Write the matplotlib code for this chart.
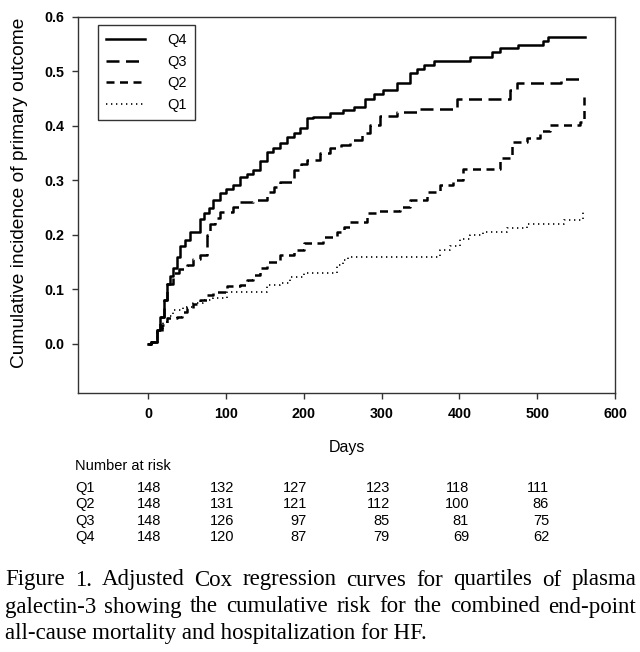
import matplotlib
matplotlib.use("Agg")
import matplotlib.pyplot as plt
from matplotlib import font_manager

# ---------------- data ----------------
q4_days = [0, 4, 11, 16, 20, 24, 28, 32, 37, 41, 47, 54, 67, 72, 78, 84, 93, 100, 109, 118, 127, 135, 144, 153, 160, 170, 179, 187, 195, 204, 212, 234, 250, 264, 279, 290, 302, 320, 337, 345, 354, 367, 414, 442, 452, 476, 508, 514, 562]
q4_vals = [0.0, 0.003, 0.026, 0.05, 0.08, 0.11, 0.125, 0.14, 0.16, 0.18, 0.19, 0.205, 0.23, 0.24, 0.25, 0.264, 0.277, 0.285, 0.292, 0.307, 0.312, 0.32, 0.335, 0.353, 0.36, 0.368, 0.38, 0.388, 0.396, 0.414, 0.417, 0.424, 0.43, 0.435, 0.45, 0.458, 0.466, 0.479, 0.497, 0.505, 0.512, 0.52, 0.526, 0.535, 0.543, 0.549, 0.556, 0.563, 0.563]

q3_days = [0, 4, 11, 16, 20, 24, 32, 40, 50, 58, 67, 76, 80, 86, 93, 109, 118, 135, 153, 162, 170, 187, 196, 204, 221, 234, 248, 260, 275, 285, 298, 320, 346, 397, 465, 474, 530, 562]
q3_vals = [0.0, 0.003, 0.026, 0.05, 0.08, 0.11, 0.13, 0.137, 0.145, 0.155, 0.163, 0.2, 0.22, 0.232, 0.243, 0.252, 0.26, 0.264, 0.279, 0.288, 0.297, 0.32, 0.33, 0.338, 0.35, 0.359, 0.366, 0.374, 0.387, 0.402, 0.418, 0.425, 0.431, 0.45, 0.466, 0.479, 0.486, 0.486]

q2_days = [0, 4, 11, 18, 24, 37, 44, 50, 58, 67, 76, 84, 101, 118, 127, 135, 144, 153, 170, 187, 200, 225, 243, 252, 260, 281, 294, 324, 337, 358, 375, 392, 405, 452, 468, 487, 504, 517, 555, 560, 562]
q2_vals = [0.0, 0.003, 0.022, 0.035, 0.047, 0.05, 0.058, 0.066, 0.073, 0.081, 0.089, 0.096, 0.106, 0.108, 0.117, 0.127, 0.139, 0.151, 0.163, 0.172, 0.185, 0.197, 0.205, 0.214, 0.224, 0.24, 0.244, 0.252, 0.264, 0.279, 0.292, 0.301, 0.321, 0.341, 0.371, 0.378, 0.39, 0.402, 0.407, 0.46, 0.46]

q1_days = [0, 4, 11, 19, 26, 32, 45, 58, 71, 84, 101, 153, 170, 183, 200, 243, 251, 257, 375, 388, 401, 414, 431, 461, 487, 534, 559, 562]
q1_vals = [0.0, 0.003, 0.026, 0.04, 0.052, 0.062, 0.068, 0.075, 0.08, 0.084, 0.096, 0.108, 0.111, 0.123, 0.13, 0.145, 0.154, 0.16, 0.172, 0.18, 0.193, 0.2, 0.206, 0.213, 0.22, 0.228, 0.243, 0.243]

x_ticks = [0, 100, 200, 300, 400, 500, 600]
y_ticks = [0.0, 0.1, 0.2, 0.3, 0.4, 0.5, 0.6]

risk_groups = ["Q1", "Q2", "Q3", "Q4"]
risk_table = {
    "Q1": [148, 132, 127, 123, 118, 111],
    "Q2": [148, 131, 121, 112, 100, 86],
    "Q3": [148, 126, 97, 85, 81, 75],
    "Q4": [148, 120, 87, 79, 69, 62],
}

caption_lines = [
    "Figure 1. Adjusted Cox regression curves for quartiles of plasma",
    "galectin-3 showing the cumulative risk for the combined end-point",
    "all-cause mortality and hospitalization for HF.",
]

# ---------------- fonts ----------------
avail = {f.name for f in font_manager.fontManager.ttflist}
sans = "Liberation Sans" if "Liberation Sans" in avail else "DejaVu Sans"
if "Liberation Sans Narrow" in avail:
    narrow, narrow_size = "Liberation Sans Narrow", 12.5
else:
    narrow, narrow_size = sans, 10.5
serif = "Liberation Serif" if "Liberation Serif" in avail else "DejaVu Serif"

W, H = 640, 652
fig = plt.figure(figsize=(W / 100, H / 100), dpi=100)
ax = fig.add_axes([78 / W, 1 - 393 / H, (615 - 78) / W, (393 - 17) / H])

ax.plot(q4_days, q4_vals, drawstyle="steps-post", color="black", lw=1.8,
        linestyle="-", label="Q4")
ax.plot(q3_days, q3_vals, drawstyle="steps-post", color="black", lw=1.8,
        linestyle=(0, (5.2, 2.6)), label="Q3")
ax.plot(q2_days, q2_vals, drawstyle="steps-post", color="black", lw=1.8,
        linestyle=(0, (3.2, 2.2)), label="Q2")
ax.plot(q1_days, q1_vals, drawstyle="steps-post", color="black", lw=1.2,
        linestyle=(0, (0.8, 2.2)), label="Q1")

ax.set_xlim(-90, 600)
ax.set_ylim(-0.09, 0.6)
ax.set_xticks(x_ticks)
ax.set_yticks(y_ticks)
ax.set_xticklabels([str(v) for v in x_ticks], fontfamily=sans, fontweight="bold", fontsize=10.3)
ax.set_yticklabels([f"{v:.1f}" for v in y_ticks], fontfamily=sans, fontweight="bold", fontsize=10.3)
ax.tick_params(direction="out", length=4, width=1, color="#333333", pad=6)
for s in ax.spines.values():
    s.set_linewidth(1.0)
    s.set_color("#333333")

ax.set_xlabel("Days", fontfamily=sans, fontsize=11.5, labelpad=14)
ax.set_ylabel("Cumulative incidence of primary outcome", fontfamily=sans, fontsize=13.8)
ax.yaxis.set_label_coords(-0.093, 0.532)

leg = ax.legend(loc="upper left", bbox_to_anchor=(20 / 537, 1 - 8 / 376), borderaxespad=0,
                frameon=True, fancybox=False, edgecolor="black", handlelength=2.7,
                handletextpad=1.5, borderpad=0.55, labelspacing=0.53,
                prop={"family": sans, "size": 10.5})
leg.get_frame().set_linewidth(1.0)

# ---------------- number at risk table ----------------
fig.text(75 / W, 1 - 466 / H, "Number at risk", fontfamily=narrow, fontsize=narrow_size,
         ha="left", va="center")
col_right_px = [161, 234, 307, 390, 469, 549]
row_y_px = [488, 504, 521, 537]
for g, ypx in zip(risk_groups, row_y_px):
    fig.text(75 / W, 1 - ypx / H, g, fontfamily=narrow, fontsize=narrow_size, ha="left", va="center")
    for v, xpx in zip(risk_table[g], col_right_px):
        fig.text(xpx / W, 1 - ypx / H, str(v), fontfamily=narrow, fontsize=narrow_size,
                 ha="right", va="center")

# ---------------- caption (justified lines) ----------------
cap_y_px = [580, 607, 634]
cap_left, cap_right = 5, 636
cap_size = 16.5
renderer = fig.canvas.get_renderer()
for i, (line, ypx) in enumerate(zip(caption_lines, cap_y_px)):
    yf = 1 - ypx / H
    if i == len(caption_lines) - 1:
        fig.text(cap_left / W, yf, line, fontfamily=serif, fontsize=cap_size, ha="left", va="center")
        continue
    words = line.split(" ")
    arts = [fig.text(0, yf, w, fontfamily=serif, fontsize=cap_size, ha="left", va="center")
            for w in words]
    widths = [a.get_window_extent(renderer).width for a in arts]
    gap = (cap_right - cap_left - sum(widths)) / (len(words) - 1)
    x = cap_left
    for a, w in zip(arts, widths):
        a.set_x(x / W)
        x += w + gap

fig.savefig("out.png", dpi=100)
